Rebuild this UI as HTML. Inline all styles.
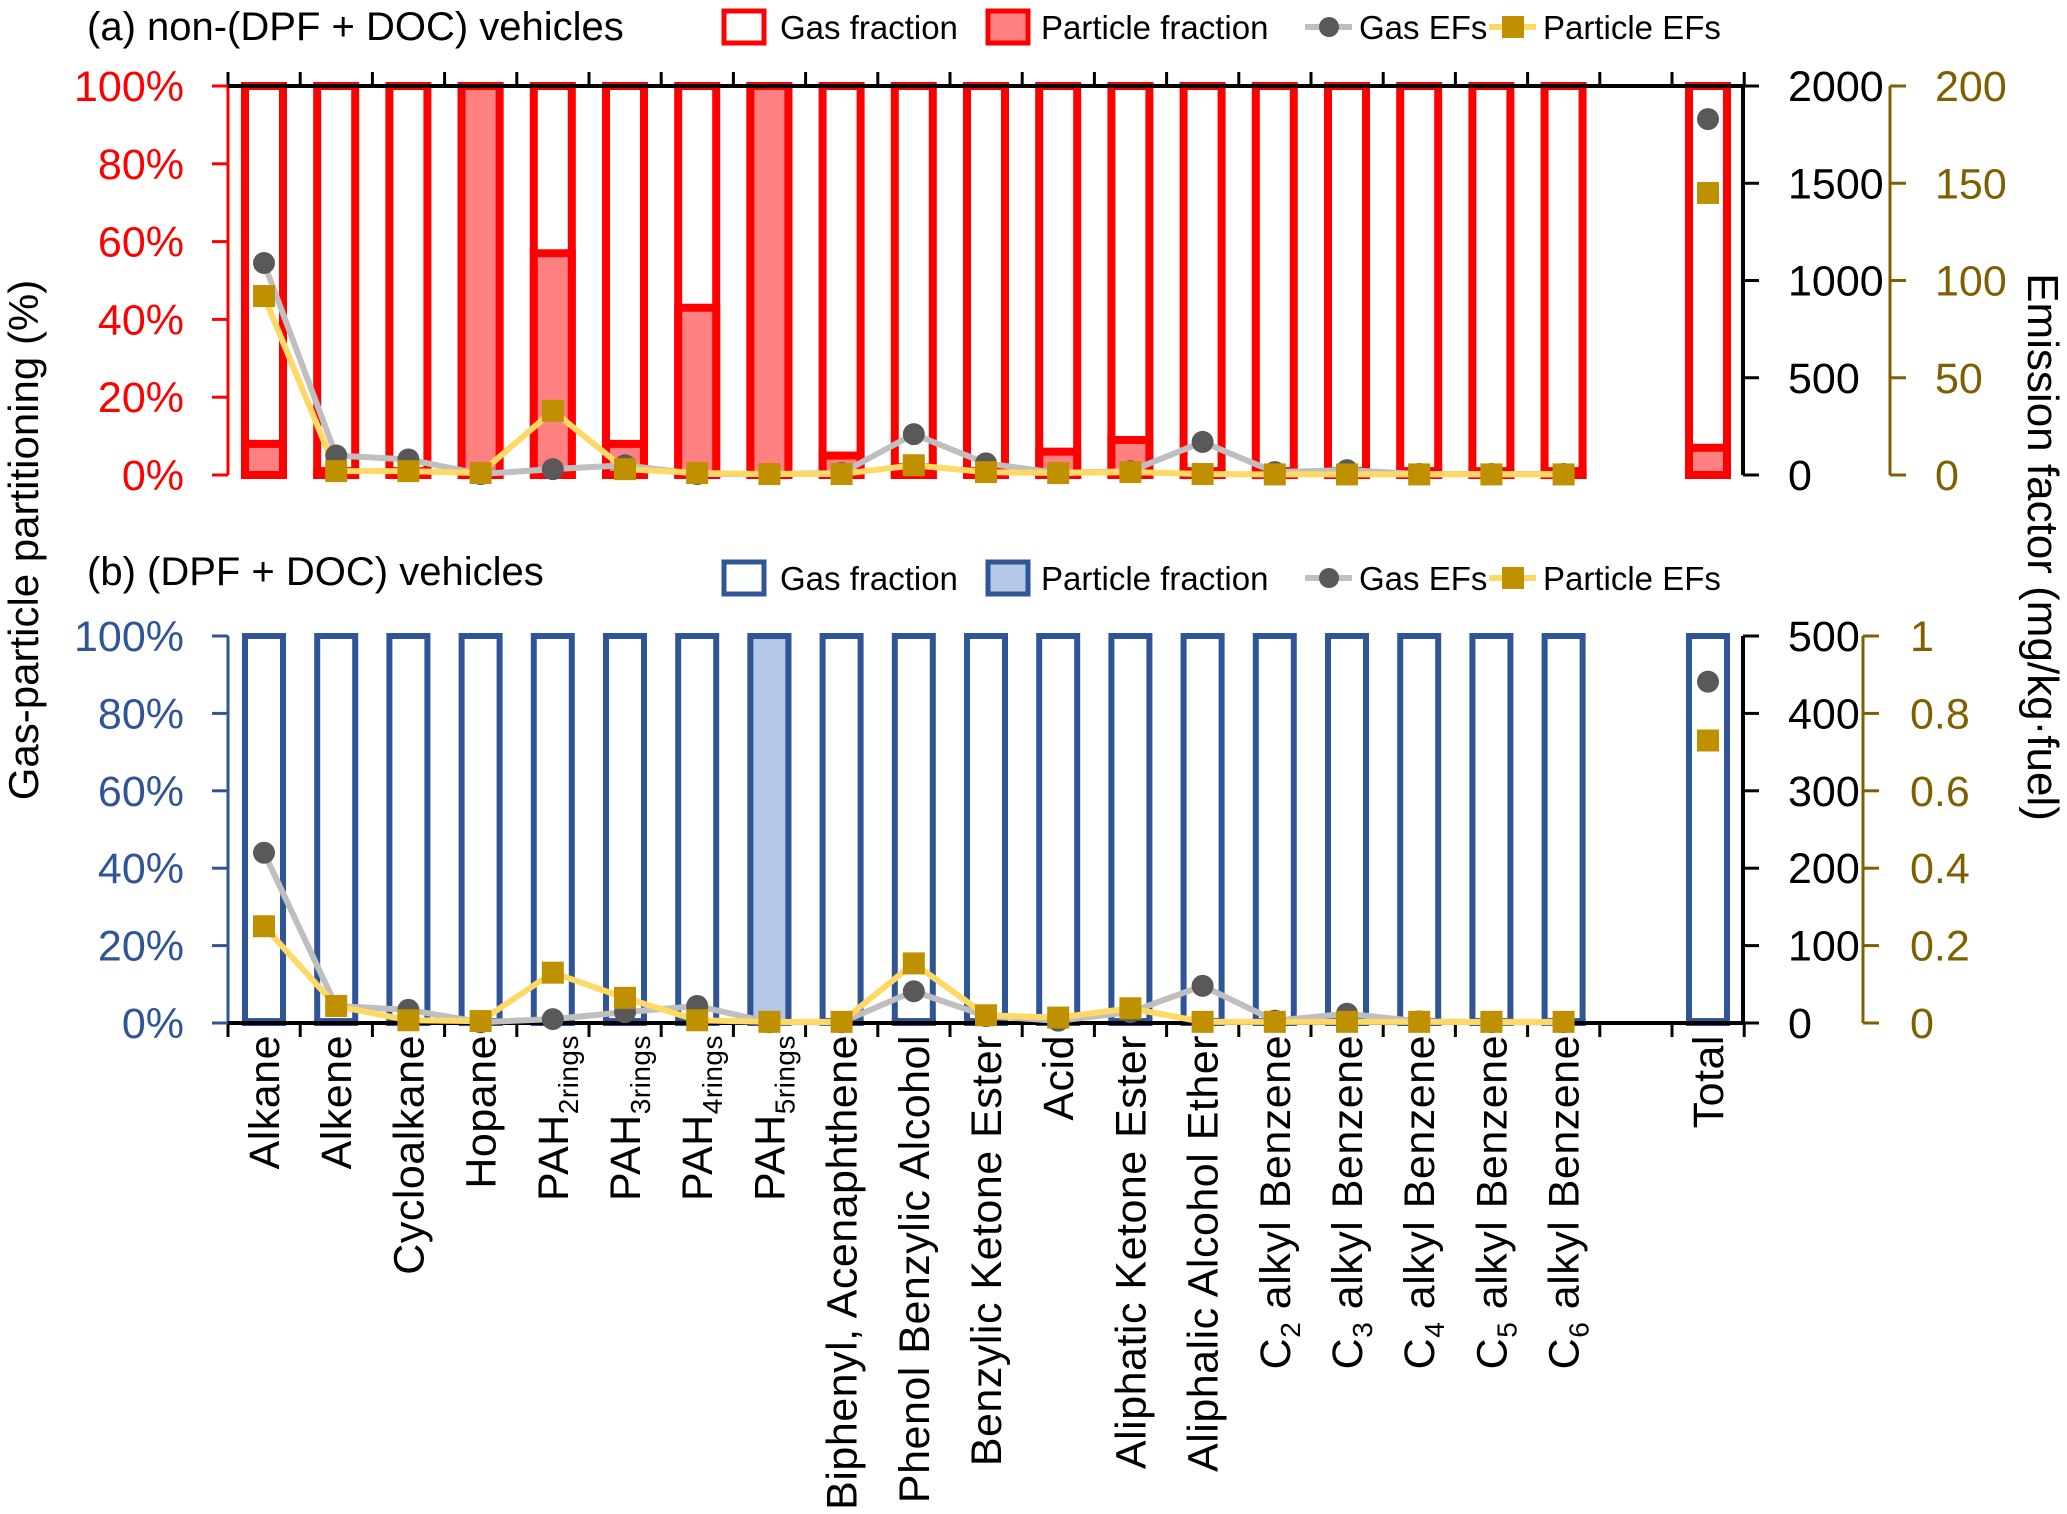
<!DOCTYPE html>
<html><head><meta charset="utf-8"><style>
html,body{margin:0;padding:0;background:#fff}
svg{display:block;font-family:"Liberation Sans",sans-serif}
</style></head><body>
<svg id="chart" width="2067" height="1514" viewBox="0 0 2067 1514" xmlns="http://www.w3.org/2000/svg"></svg>
<script>
const categories = ["Alkane","Alkene","Cycloalkane","Hopane","PAH|2rings","PAH|3rings","PAH|4rings","PAH|5rings","Biphenyl, Acenaphthene","Phenol Benzylic Alcohol","Benzylic Ketone Ester","Acid","Aliphatic Ketone Ester","Aliphalic Alcohol Ether","C|2| alkyl Benzene","C|3| alkyl Benzene","C|4| alkyl Benzene","C|5| alkyl Benzene","C|6| alkyl Benzene","","Total"];
const partFracA = [8,1,1,100,57,8,43,100,5,2,1,6,9,1,1,1,1,1,1,null,7];
const gasEFA = [1090,100,80,5,30,50,5,5,10,210,60,10,20,170,15,25,5,5,5,null,1830];
const partEFA = [92,2,2,1,33,3,1,0.5,0.5,5,1.5,1,1.5,0.5,0.3,0.3,0.3,0.3,0.3,null,145];
const partFracB = [0.5,0.5,0.5,0.5,0.5,0.5,0.5,100,0.5,0.5,0.5,0.5,0.5,0.5,0.5,0.5,0.5,0.5,0.5,null,0.5];
const gasEFB = [220,22,17,1,5,14,22,1,1,41,9,3,14,48,3,12,2,1,1,null,441];
const partEFB = [0.25,0.044,0.007,0.005,0.13,0.065,0.007,0.003,0.003,0.154,0.02,0.014,0.038,0.003,0.003,0.003,0.003,0.003,0.003,null,0.73];
const pctTicks = ["0%","20%","40%","60%","80%","100%"];
const leftTicksA = ["0","500","1000","1500","2000"];
const rightTicksA = ["0","50","100","150","200"];
const leftTicksB = ["0","100","200","300","400","500"];
const rightTicksB = ["0","0.2","0.4","0.6","0.8","1"];

const NS="http://www.w3.org/2000/svg";
const svg=document.getElementById('chart');
function mk(tag,attrs,parent){const e=document.createElementNS(NS,tag);for(const k in attrs)e.setAttribute(k,attrs[k]);(parent||svg).appendChild(e);return e;}
const X0=228, X1=1743, C0=264, STEP=72.2;
const xPos=i=>C0+i*STEP;

function panel(cfg){
  const g=mk('g',{});
  
  
  const y=(v,max)=>cfg.y0-(v/max)*(cfg.y0-cfg.y100);
  categories.forEach((c,i)=>{
    if(partFracA[i]===null) return;
    const pf=cfg.pf[i]; const cx=xPos(i), w=38;
    const b=mk('g',{},g);
    
    
    mk('rect',{x:cx-w/2,y:cfg.y100,width:w,height:cfg.y0-cfg.y100,fill:'#fff',stroke:cfg.col,'stroke-width':cfg.sw},b);
    const py=y(pf,100);
    mk('rect',{x:cx-w/2,y:py,width:w,height:cfg.y0-py,fill:cfg.fill,stroke:cfg.col,'stroke-width':cfg.sw},b);
  });
  mk('line',{x1:X0,y1:cfg.y100,x2:X0,y2:cfg.y0,stroke:cfg.col,'stroke-width':3},g);
  const ha=cfg.top?cfg.y100:cfg.y0;
  mk('line',{x1:X0,y1:ha,x2:X1,y2:ha,stroke:'#000','stroke-width':4},g);
  for(let i=0;i<=21;i++){const tx=X0+i*STEP;mk('line',{x1:tx,y1:ha,x2:tx,y2:cfg.top?ha-14:ha+14,stroke:'#000','stroke-width':3},g);}
  mk('line',{x1:X1,y1:cfg.y100,x2:X1,y2:cfg.y0,stroke:'#000','stroke-width':4},g);
  mk('line',{x1:cfg.sx,y1:cfg.y100,x2:cfg.sx,y2:cfg.y0,stroke:'#7f6000','stroke-width':3},g);
  pctTicks.forEach((t,i)=>{const ty=y(i*20,100);
    mk('line',{x1:X0-16,y1:ty,x2:X0,y2:ty,stroke:cfg.col,'stroke-width':3},g);
    const tx=mk('text',{x:184,y:ty+15,'text-anchor':'end','font-size':43,fill:cfg.col},g);tx.textContent=t;});
  const n=cfg.lt.length-1;
  cfg.lt.forEach((t,i)=>{const ty=cfg.y0-i*(cfg.y0-cfg.y100)/n;
    mk('line',{x1:X1,y1:ty,x2:X1+16,y2:ty,stroke:'#000','stroke-width':3},g);
    const tx=mk('text',{x:1788,y:ty+15,'font-size':43,fill:'#000'},g);tx.textContent=t;});
  const m=cfg.rt.length-1;
  cfg.rt.forEach((t,i)=>{const ty=cfg.y0-i*(cfg.y0-cfg.y100)/m;
    mk('line',{x1:cfg.sx,y1:ty,x2:cfg.sx+16,y2:ty,stroke:'#7f6000','stroke-width':3},g);
    const tx=mk('text',{x:cfg.rx,y:ty+15,'font-size':43,fill:'#7f6000'},g);tx.textContent=t;});
  const pts=(arr,max)=>arr.slice(0,19).map((v,i)=>xPos(i)+','+y(v,max)).join(' ');
  const gl=mk('polyline',{points:pts(cfg.g,cfg.gmax),fill:'none',stroke:'#bfbfbf','stroke-width':6},g);
  
  const pl=mk('polyline',{points:pts(cfg.p,cfg.pmax),fill:'none',stroke:'#ffd966','stroke-width':6},g);
  
  cfg.g.forEach((v,i)=>{if(v===null)return;const c=mk('circle',{cx:xPos(i),cy:y(v,cfg.gmax),r:11,fill:'#595959'},g);
    });
  cfg.p.forEach((v,i)=>{if(v===null)return;const r=mk('rect',{x:xPos(i)-11,y:y(v,cfg.pmax)-11,width:22,height:22,fill:'#bf9000'},g);
    });
  const tt=mk('text',{x:87,y:cfg.ty,'font-size':40,fill:'#000'},g);tt.textContent=cfg.title;
  
  const lg=mk('g',{},g);
  const ly=cfg.ly;
  mk('rect',{x:724,y:ly-16,width:40,height:32,fill:'#fff',stroke:cfg.col,'stroke-width':5},lg);
  let t=mk('text',{x:780,y:ly+12,'font-size':33},lg);t.textContent='Gas fraction';
  mk('rect',{x:988,y:ly-16,width:40,height:32,fill:cfg.fill,stroke:cfg.col,'stroke-width':5},lg);
  t=mk('text',{x:1041,y:ly+12,'font-size':33},lg);t.textContent='Particle fraction';
  mk('line',{x1:1305,y1:ly,x2:1352,y2:ly,stroke:'#bfbfbf','stroke-width':6},lg);
  mk('circle',{cx:1329,cy:ly,r:10,fill:'#595959'},lg);
  t=mk('text',{x:1359,y:ly+12,'font-size':33},lg);t.textContent='Gas EFs';
  mk('line',{x1:1489,y1:ly,x2:1536,y2:ly,stroke:'#ffd966','stroke-width':6},lg);
  mk('rect',{x:1502,y:ly-11,width:22,height:22,fill:'#bf9000'},lg);
  t=mk('text',{x:1543,y:ly+12,'font-size':33},lg);t.textContent='Particle EFs';
}
panel({name:'panel-a',y100:86,y0:475,top:true,col:'#ff0000',fill:'#ff8080',sw:8,pf:partFracA,g:gasEFA,p:partEFA,gmax:2000,pmax:200,
  lt:leftTicksA,rt:rightTicksA,sx:1890,rx:1935,title:'(a) non-(DPF + DOC) vehicles',ty:40,ly:27});
panel({name:'panel-b',y100:636,y0:1023,top:false,col:'#2f5597',fill:'#b4c7e7',sw:6,pf:partFracB,g:gasEFB,p:partEFB,gmax:500,pmax:1,
  lt:leftTicksB,rt:rightTicksB,sx:1863,rx:1910,title:'(b) (DPF + DOC) vehicles',ty:585,ly:578});

categories.forEach((c,i)=>{
  if(!c) return;
  const cx=xPos(i)+15, ty=1035;
  const t=mk('text',{transform:`translate(${cx},${ty}) rotate(-90)`,'text-anchor':'end','font-size':43,'letter-spacing':0.5,fill:'#000'});
  
  
  const parts=c.split('|');
  parts.forEach((p,k)=>{const s=document.createElementNS(NS,'tspan');
    if(k===1){s.setAttribute('font-size','28');s.setAttribute('dy','10');}
    if(k===2){s.setAttribute('dy','-10');}
    s.textContent=p;t.appendChild(s);});
});
let yt=mk('text',{transform:'translate(38,540) rotate(-90)','text-anchor':'middle','font-size':42});
yt.textContent='Gas-particle partitioning (%)';


let rt=mk('text',{transform:'translate(2028,547) rotate(90)','text-anchor':'middle','font-size':44});
rt.textContent='Emission factor (mg/kg·fuel)';


</script>
</body></html>
